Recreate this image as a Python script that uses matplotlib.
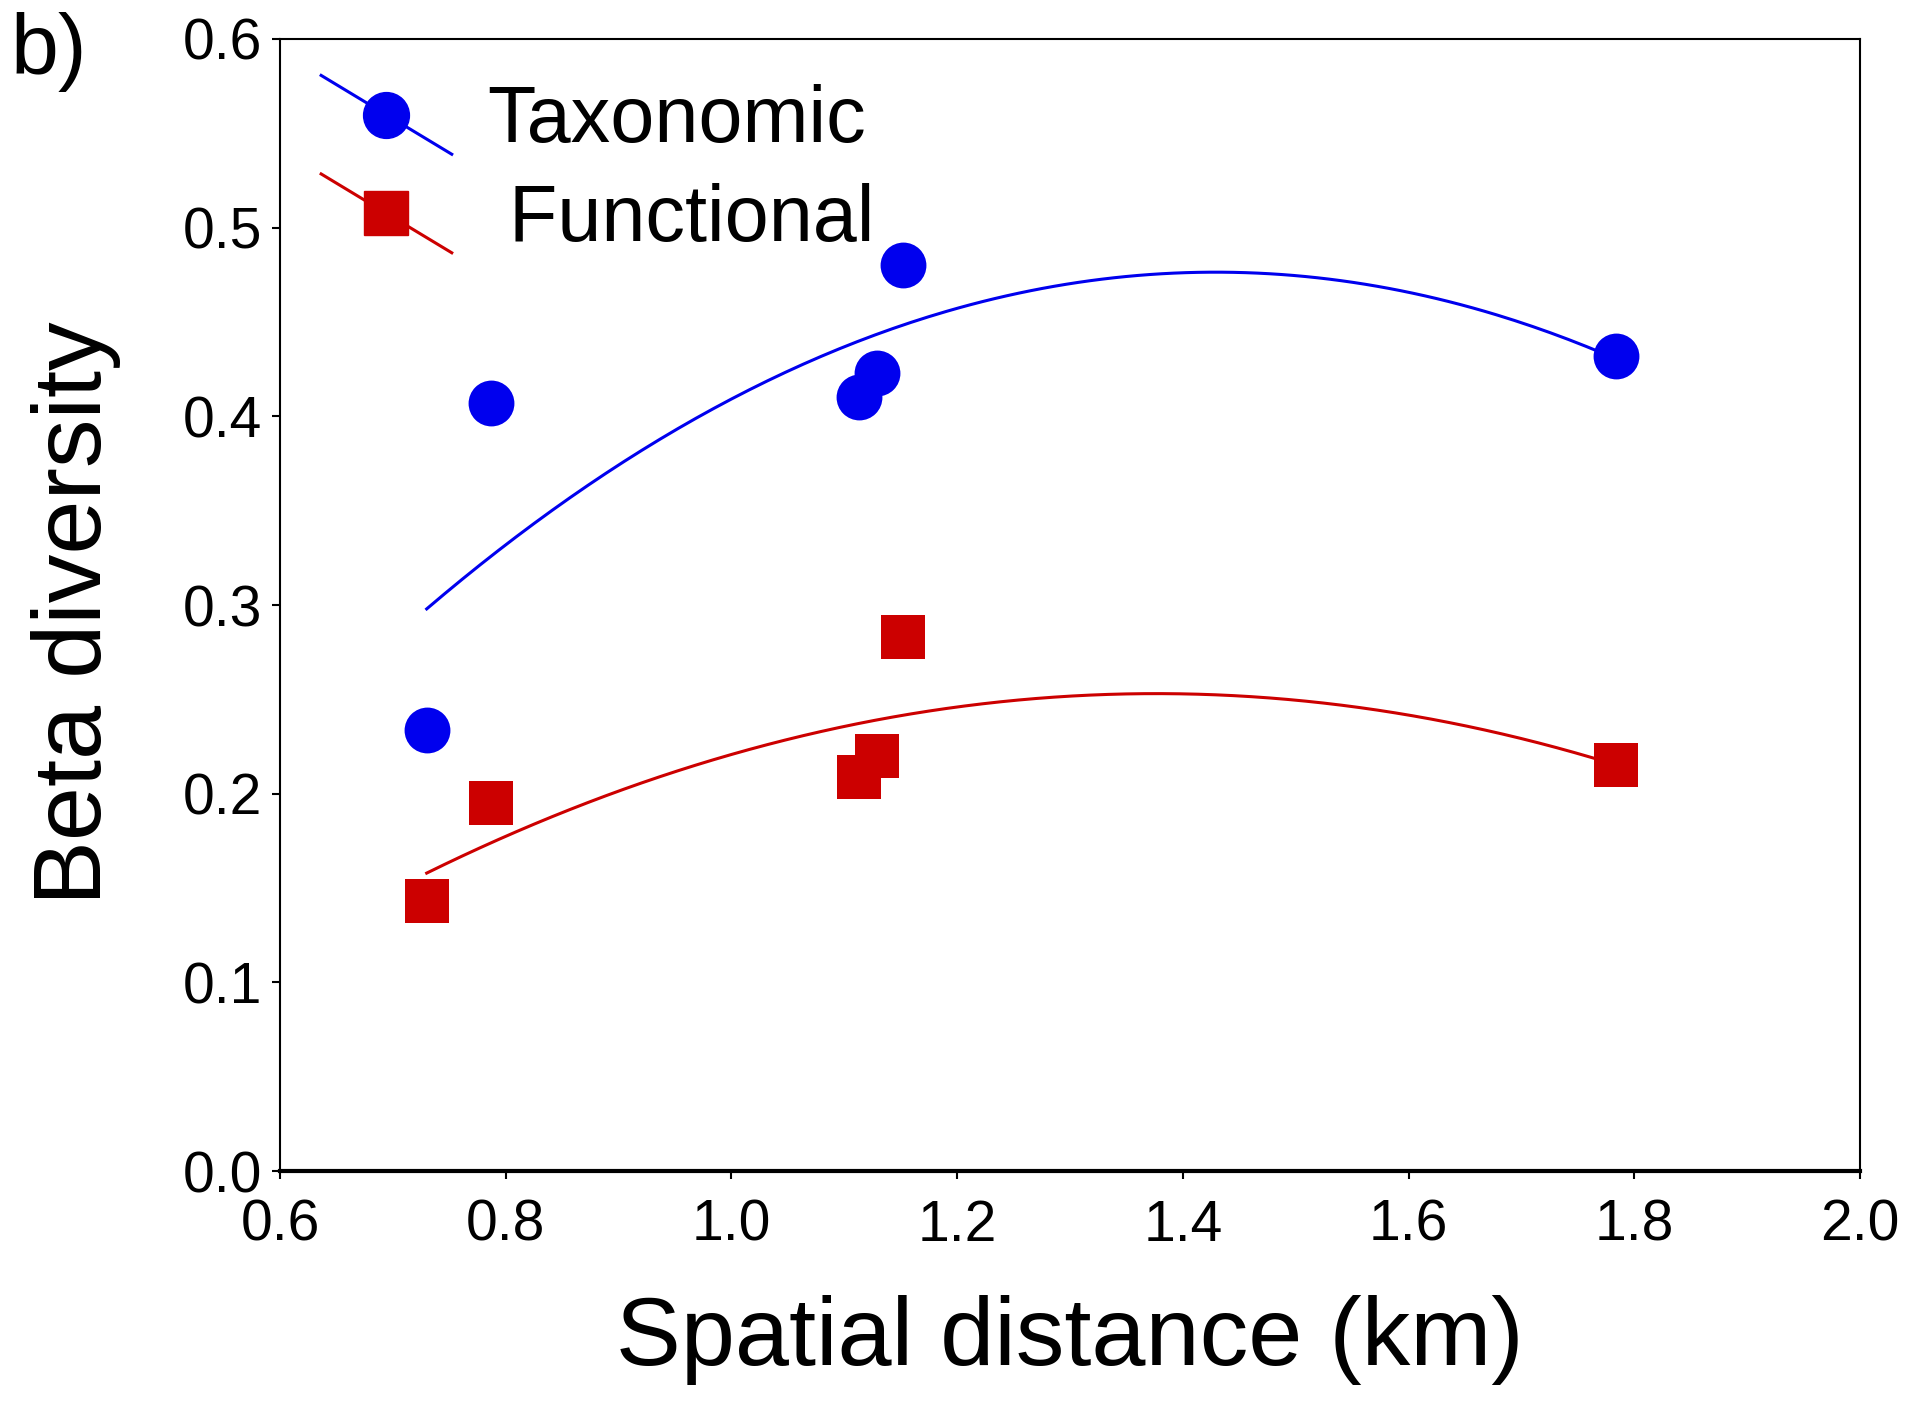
import numpy as np
import matplotlib
matplotlib.use("Agg")
import matplotlib.pyplot as plt
from matplotlib.lines import Line2D
from matplotlib.legend_handler import HandlerBase

plt.rcParams['font.family'] = ['Liberation Sans', 'DejaVu Sans']

# spatial distance between sites (km)
dist = [0.730, 0.787, 1.113, 1.129, 1.152, 1.784]
# beta diversity per pair
taxonomic = [0.234, 0.407, 0.410, 0.423, 0.480, 0.432]
functional = [0.143, 0.195, 0.209, 0.220, 0.283, 0.215]

blue = '#0000ee'
red = '#cc0000'


class DiagonalHandler(HandlerBase):
    # legend key drawn as a slanted line with the marker in the middle
    def create_artists(self, legend, orig_handle, xdescent, ydescent,
                       width, height, fontsize, trans):
        x0, x1 = -xdescent, width - xdescent
        y0, y1 = -ydescent - 0.1 * height, height - ydescent + 0.1 * height
        ln = Line2D([x0, x1], [y1, y0], color=orig_handle.get_color(), lw=2.2)
        mk = Line2D([(x0 + x1) / 2], [(y0 + y1) / 2],
                    marker=orig_handle.get_marker(),
                    markersize=orig_handle.get_markersize(),
                    color=orig_handle.get_color(), linestyle='none')
        ln.set_transform(trans)
        mk.set_transform(trans)
        return [ln, mk]


fig = plt.figure(figsize=(19.23, 14.07), dpi=100)
ax = fig.add_axes([0.1456, 0.1677, 0.8216, 0.8046])

xs = np.linspace(min(dist), max(dist), 200)
ct = np.polyfit(dist, taxonomic, 2)
cf = np.polyfit(dist, functional, 2)
ax.plot(xs, np.polyval(ct, xs), color=blue, lw=2.2, zorder=2)
ax.plot(xs, np.polyval(cf, xs), color=red, lw=2.2, zorder=2)

h1, = ax.plot(dist, taxonomic, 'o', color=blue, ms=33, mew=0, zorder=3)
h2, = ax.plot(dist, functional, 's', color=red, ms=31, mew=0, zorder=3)

ax.set_xlim(0.6, 2.0)
ax.set_ylim(0.0, 0.6)
ax.set_xticks(np.arange(0.6, 2.01, 0.2))
ax.set_yticks(np.arange(0.0, 0.61, 0.1))
ax.xaxis.set_major_formatter(matplotlib.ticker.FormatStrFormatter('%.1f'))
ax.yaxis.set_major_formatter(matplotlib.ticker.FormatStrFormatter('%.1f'))
ax.tick_params(axis='both', direction='out', length=6, width=1.5, labelsize=41)
ax.tick_params(axis='x', pad=14)
ax.tick_params(axis='y', pad=7)
for s in ax.spines.values():
    s.set_linewidth(1.5)
ax.spines['bottom'].set_linewidth(3)

ax.set_xlabel('Spatial distance (km)', fontsize=70)
ax.set_ylabel('Beta diversity', fontsize=70)
ax.xaxis.set_label_coords(0.5, -0.149)
ax.xaxis.label.set_va('center')
ax.yaxis.set_label_coords(-0.129, 0.493)
ax.yaxis.label.set_va('center')

ax.legend([h1, h2], ['Taxonomic', ' Functional'],
          handler_map={Line2D: DiagonalHandler()},
          loc='upper left', bbox_to_anchor=(0.006, 0.99), frameon=False,
          fontsize=57, handlelength=1.65, handleheight=0.9,
          handletextpad=0.45, labelspacing=0.27, borderaxespad=0)

fig.text(49 / 1923, 1 - 52 / 1407, 'b)', fontsize=62, ha='center', va='center')

fig.savefig('out.png', dpi=100)
